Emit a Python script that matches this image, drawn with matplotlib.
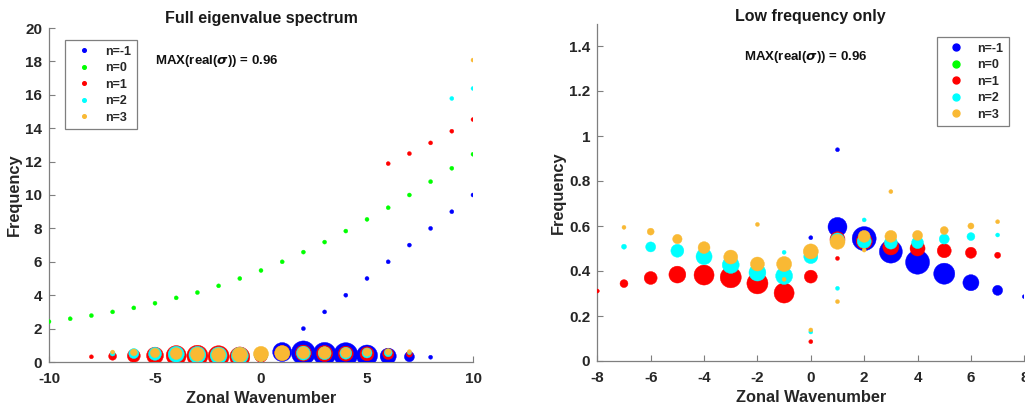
import matplotlib
matplotlib.use("Agg")
import matplotlib.pyplot as plt
from matplotlib.lines import Line2D
import numpy as np

plt.rcParams['font.family'] = ['Liberation Sans', 'DejaVu Sans']
plt.rcParams['font.weight'] = 'bold'
plt.rcParams['mathtext.fontset'] = 'dejavusans'
plt.rcParams['axes.unicode_minus'] = False

labels = ['n=-1', 'n=0', 'n=1', 'n=2', 'n=3']
colors = ['#0000FF', '#00FF00', '#FF0000', '#00FFFF', '#F9B934']

# n = -1
k_m1 = [0, 1, 1, 2, 3, 4, 5, 6, 7, 8, 2, 3, 4, 5, 6, 7, 8, 9, 10]
f_m1 = [0.548, 0.596, 0.939, 0.544, 0.486, 0.439, 0.388, 0.348, 0.314, 0.286,
        2.0, 3.0, 4.0, 5.0, 6.0, 7.0, 8.0, 9.0, 10.0]
g_m1 = [0, 0.72, 0, 0.96, 0.91, 0.96, 0.82, 0.58, 0.29, 0,
        0, 0, 0, 0, 0, 0, 0, 0, 0]
# n = 0
k_0 = [-10, -9, -8, -7, -6, -5, -4, -3, -2, -1, 0, 1, 2, 3, 4, 5, 6, 7, 8, 9, 10]
f_0 = [2.42, 2.59, 2.78, 3.0, 3.24, 3.52, 3.84, 4.16, 4.56, 5.0, 5.48, 6.0,
       6.58, 7.18, 7.84, 8.54, 9.24, 10.0, 10.8, 11.6, 12.44]
g_0 = [0] * 21
# n = 1
k_1 = [-8, -7, -6, -5, -4, -3, -2, -1, 0, 0, 1, 1, 2, 3, 4, 5, 6, 7,
       6, 7, 8, 9, 10]
f_1 = [0.311, 0.344, 0.369, 0.384, 0.382, 0.372, 0.345, 0.302, 0.375, 0.086,
       0.541, 0.456, 0.532, 0.507, 0.500, 0.490, 0.481, 0.470,
       11.88, 12.48, 13.12, 13.82, 14.52]
g_1 = [0, 0.19, 0.43, 0.62, 0.77, 0.82, 0.82, 0.77, 0.43, 0,
       0.53, 0, 0.58, 0.58, 0.53, 0.48, 0.34, 0.10,
       0, 0, 0, 0, 0]
# n = 2
k_2 = [-7, -6, -5, -4, -3, -2, -1, -1, 0, 0, 1, 1, 2, 2, 3, 4, 5, 6, 7, 9, 10]
f_2 = [0.508, 0.507, 0.490, 0.464, 0.427, 0.393, 0.378, 0.483, 0.464, 0.129,
       0.538, 0.323, 0.532, 0.627, 0.526, 0.526, 0.542, 0.553, 0.560,
       15.78, 16.38]
g_2 = [0.05, 0.29, 0.43, 0.58, 0.62, 0.62, 0.62, 0, 0.48, 0,
       0.48, 0, 0.48, 0, 0.43, 0.38, 0.29, 0.19, 0, 0, 0]
# n = 3
k_3 = [-7, -6, -5, -4, -3, -2, -2, -1, -1, 0, 0, 1, 1, 2, 2, 3, 3, 4, 5, 6, 7, 10]
f_3 = [0.594, 0.575, 0.542, 0.504, 0.462, 0.431, 0.607, 0.431, 0.363, 0.487,
       0.138, 0.530, 0.264, 0.554, 0.493, 0.554, 0.753, 0.558, 0.580, 0.600,
       0.619, 18.08]
g_3 = [0, 0.14, 0.26, 0.38, 0.48, 0.48, 0, 0.53, 0, 0.53,
       0, 0.53, 0, 0.38, 0, 0.38, 0, 0.29, 0.19, 0.10, 0, 0]

series = [(k_m1, f_m1, g_m1), (k_0, f_0, g_0), (k_1, f_1, g_1),
          (k_2, f_2, g_2), (k_3, f_3, g_3)]
max_growth = 0.96

DPI = 100
fig = plt.figure(figsize=(10.25, 4.05), dpi=DPI)

def sizes(g):
    d_px = 4.0 + np.asarray(g) / max_growth * 20.0
    return (d_px * 72.0 / DPI) ** 2

axL = fig.add_axes([49 / 1025, 43 / 405, 424 / 1025, 334 / 405])
axR = fig.add_axes([597.3 / 1025, 44 / 405, 427 / 1025, 337.5 / 405])

for ax in (axL, axR):
    for (k, f, g), c in zip(series, colors):
        ax.scatter(k, f, s=sizes(g), c=c, edgecolors=c, linewidths=0.3, zorder=3)
    ax.spines['top'].set_visible(False)
    ax.spines['right'].set_visible(False)
    for sp in ('left', 'bottom'):
        ax.spines[sp].set_color('#7f7f7f')
        ax.spines[sp].set_linewidth(0.9)
    ax.tick_params(direction='in', length=4, width=0.8, color='#7f7f7f',
                   labelsize=11, labelcolor='#262626')
    ax.tick_params(axis='x', pad=7)
    ax.tick_params(axis='y', pad=5)
    ax.set_xlabel('Zonal Wavenumber', fontsize=11.8, fontweight='bold', color='#262626', labelpad=4)
    ax.set_ylabel('Frequency', fontsize=11.8, fontweight='bold', color='#262626', labelpad=2)

axL.set_xlim(-10, 10)
axL.set_ylim(0, 20)
axL.set_xticks([-10, -5, 0, 5, 10])
axL.set_yticks(np.arange(0, 21, 2))
axL.set_title('Full eigenvalue spectrum', fontsize=11.5, fontweight='bold', color='#1a1a1a', pad=3.5)
axL.text(-5, 18, r'MAX(real($\sigma$)) = 0.96', fontsize=9.5, fontweight='bold',
         ha='left', va='center', color='#111111')

axR.set_xlim(-8, 8)
axR.set_ylim(0, 1.5)
axR.set_xticks(np.arange(-8, 9, 2))
axR.set_yticks([0, 0.2, 0.4, 0.6, 0.8, 1.0, 1.2, 1.4])
axR.set_yticklabels(['0', '0.2', '0.4', '0.6', '0.8', '1', '1.2', '1.4'])
axR.set_title('Low frequency only', fontsize=11.5, fontweight='bold', color='#1a1a1a', pad=1.5)
axR.text(-2.5, 1.35, r'MAX(real($\sigma$)) = 0.96', fontsize=9.5, fontweight='bold',
         ha='left', va='center', color='#111111')

for lab in axL.get_xticklabels() + axL.get_yticklabels() + axR.get_xticklabels() + axR.get_yticklabels():
    lab.set_fontweight('bold')

def make_legend(ax, msize, anchor, loc):
    handles = [Line2D([], [], linestyle='none', marker='o', markersize=msize,
                      markerfacecolor=c, markeredgecolor=c) for c in colors]
    leg = ax.legend(handles, labels, loc=loc, bbox_to_anchor=anchor,
                    fontsize=9, frameon=True, fancybox=False, edgecolor='#7f7f7f',
                    framealpha=1, handlelength=2.2, handletextpad=0.6,
                    labelspacing=0.36, borderpad=0.45, borderaxespad=0)
    leg.get_frame().set_linewidth(0.9)
    for t in leg.get_texts():
        t.set_fontweight('bold')
        t.set_color('#262626')
    return leg

make_legend(axL, 2.6, (0.0377, 0.964), 'upper left')
make_legend(axR, 5.0, (0.964, 0.96), 'upper right')

fig.savefig('out.png', dpi=DPI)
